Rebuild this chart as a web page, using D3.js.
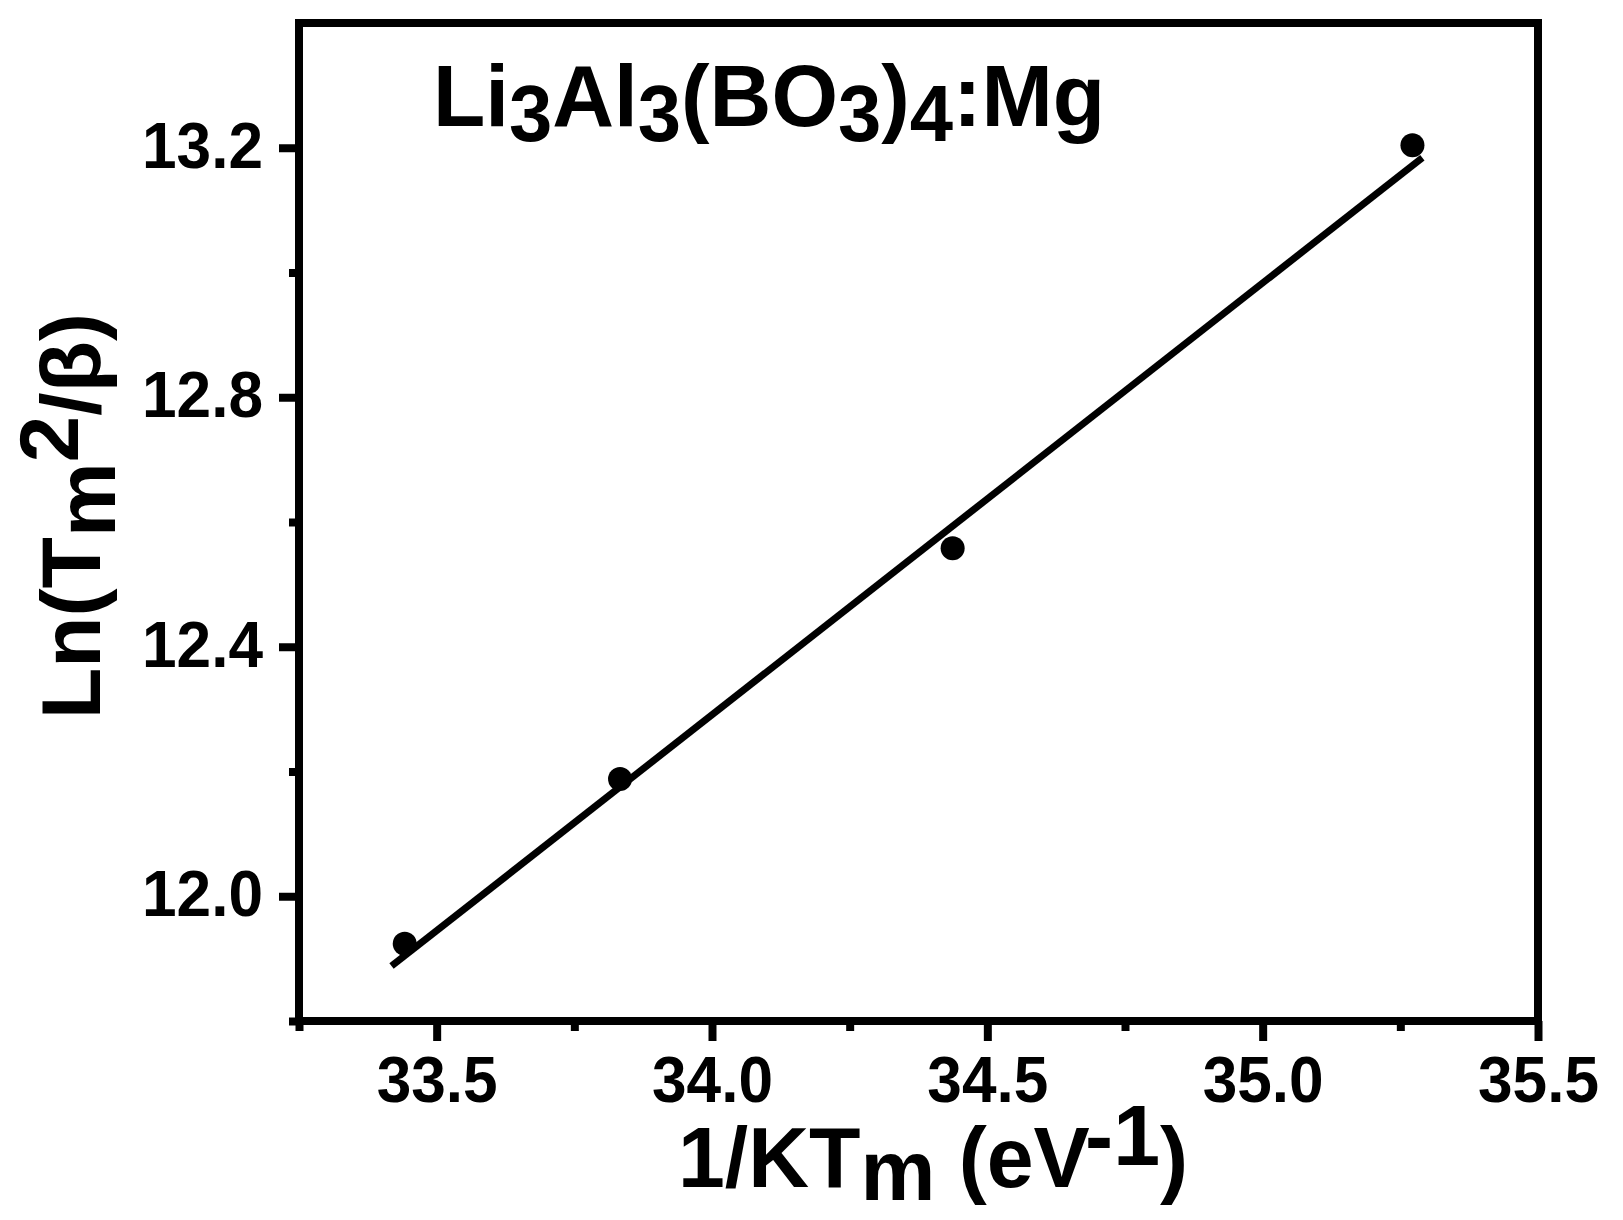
<!DOCTYPE html>
<meta charset="utf-8">
<html>
<head>
    <title>Ln(Tm2/b) vs 1/KTm</title>
</head>
<style>
    *{ margin:0; padding:0;}
    body{ background:#fff;}
    svg text{ font-family:Arial, 'Liberation Sans', sans-serif; font-weight:bold; fill:#000;}
</style>
<script src="https://cdn.jsdelivr.net/npm/d3@7"></script>
<div id="chartContainer"></div>
<script type="text/javascript">

    // measured points
    var xVals = [33.442, 33.833, 34.437, 35.272];
    var yVals = [11.924, 12.188, 12.558, 13.204];

    // fitted line, end points
    var fitX = [33.418, 35.290];
    var fitY = [11.888, 13.184];

    var xTicks = [33.5, 34.0, 34.5, 35.0, 35.5];
    var xMinor = [33.25, 33.75, 34.25, 34.75, 35.25];
    var yTicks = [12.0, 12.4, 12.8, 13.2];
    var yMinor = [11.8, 12.2, 12.6, 13.0];

    var W = 1623, H = 1220;
    var L = 299, R = 1538, T = 23, B = 1021;

    var svg = d3.select("#chartContainer").append("svg")
            .attr("width", W).attr("height", H);

    var x = d3.scaleLinear().domain([33.25, 35.5]).range([L, R]);
    var y = d3.scaleLinear().domain([11.8, 13.4]).range([B, T]);

    // minor ticks
    svg.append("g").attr("transform", "translate(0," + B + ")")
            .call(d3.axisBottom(x).tickValues(xMinor).tickSize(10).tickSizeOuter(0).tickFormat(""));
    svg.append("g").attr("transform", "translate(" + L + ",0)")
            .call(d3.axisLeft(y).tickValues(yMinor).tickSize(10).tickSizeOuter(0).tickFormat(""));

    // major ticks
    var xAxis = svg.append("g").attr("transform", "translate(0," + B + ")")
            .call(d3.axisBottom(x).tickValues(xTicks).tickSize(20).tickSizeOuter(0).tickPadding(15).tickFormat(d3.format(".1f")));
    var yAxis = svg.append("g").attr("transform", "translate(" + L + ",0)")
            .call(d3.axisLeft(y).tickValues(yTicks).tickSize(20).tickSizeOuter(0).tickPadding(16).tickFormat(d3.format(".1f")));

    svg.selectAll(".tick line").attr("stroke", "#000").attr("stroke-width", 8);
    svg.selectAll(".domain").remove();
    svg.selectAll(".tick text").style("font-size", "65px").attr("fill", "#000")
            .attr("textLength", 121).attr("lengthAdjust", "spacingAndGlyphs");
    xAxis.selectAll(".tick text").attr("dy", "0.71em");
    yAxis.selectAll(".tick text").attr("dy", "0.3em");

    // frame
    svg.append("rect")
            .attr("x", L).attr("y", T)
            .attr("width", R - L).attr("height", B - T)
            .attr("fill", "none").attr("stroke", "#000").attr("stroke-width", 8)
            .attr("stroke-linejoin", "miter");

    // fit line
    svg.append("line")
            .attr("x1", x(fitX[0])).attr("y1", y(fitY[0]))
            .attr("x2", x(fitX[1])).attr("y2", y(fitY[1]))
            .attr("stroke", "#000").attr("stroke-width", 7);

    // points
    svg.selectAll("circle.pt").data(xVals).enter().append("circle")
            .attr("class", "pt")
            .attr("cx", function (d) { return x(d); })
            .attr("cy", function (d, i) { return y(yVals[i]); })
            .attr("r", 12)
            .attr("fill", "#000");

    // title
    var title = svg.append("text").attr("x", 433).attr("y", 126).style("font-size", "88px")
            .attr("textLength", 672).attr("lengthAdjust", "spacingAndGlyphs");
    title.append("tspan").text("Li");
    title.append("tspan").attr("dy", 15).style("font-size", "80px").text("3");
    title.append("tspan").attr("dy", -15).text("Al");
    title.append("tspan").attr("dy", 15).style("font-size", "80px").text("3");
    title.append("tspan").attr("dy", -15).text("(BO");
    title.append("tspan").attr("dy", 15).style("font-size", "80px").text("3");
    title.append("tspan").attr("dy", -15).text(")");
    title.append("tspan").attr("dy", 15).style("font-size", "80px").text("4");
    title.append("tspan").attr("dy", -15).text(":Mg");

    // x label
    var xl = svg.append("text").attr("x", 678).attr("y", 1187).style("font-size", "86px")
            .attr("textLength", 510).attr("lengthAdjust", "spacingAndGlyphs");
    xl.append("tspan").text("1/KT");
    xl.append("tspan").attr("dy", 13).text("m");
    xl.append("tspan").attr("dy", -13).text(" (eV");
    xl.append("tspan").attr("dy", -22).text("-1");
    xl.append("tspan").attr("dy", 22).text(")");

    // y label
    var yl = svg.append("text")
            .attr("transform", "translate(100,719) rotate(-90)")
            .style("font-size", "84px");
    yl.append("tspan").text("Ln(T");
    yl.append("tspan").attr("dy", 15).text("m");
    yl.append("tspan").attr("dy", -37).text("2");
    yl.append("tspan").attr("dy", 22).text("/\u03b2)");

</script>
</html>
